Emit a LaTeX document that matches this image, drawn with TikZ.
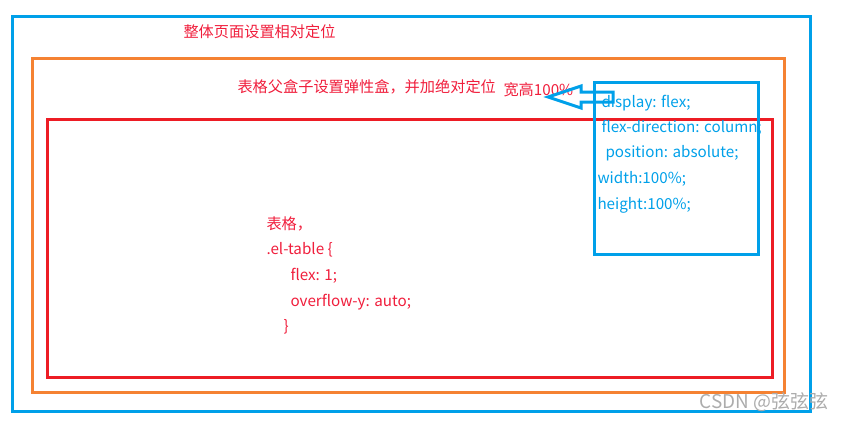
\documentclass[tikz,border=0pt]{standalone}
\usepackage{fontspec}
\newfontfamily\cjk{Noto Sans CJK SC}
\usetikzlibrary{positioning}
\definecolor{lblue}{RGB}{0,160,233}
\definecolor{lorange}{RGB}{245,130,50}
\definecolor{lred}{RGB}{237,28,36}
\definecolor{tred}{RGB}{240,30,60}
\begin{document}
\begin{tikzpicture}[x=0.75pt, y=-0.75pt, line width=2.25pt,
    txt/.style={anchor=west, inner sep=0pt, font=\cjk\fontsize{11.4}{13}\selectfont},
    redtxt/.style={txt, text=tred},
    bluetxt/.style={txt, text=lblue}]
    \useasboundingbox (0,0) rectangle (845,421);
    % boxes
    \draw[lblue] (12.5,16) rectangle (810,411);
    \draw[lorange] (32.5,58.5) rectangle (784,392);
    \draw[lred] (47,119.5) rectangle (772,377);
    \draw[lblue] (594,82) rectangle (758,254);
    % labels
    \node[redtxt] (page) at (182,32) {整体页面设置相对定位};
    \node[redtxt] (parent) at (236,87) {表格父盒子设置弹性盒，并加绝对定位};
    \node[redtxt] (wh) at (502,90) {宽高100\%};
    \node[bluetxt] (c1) at (600,103) {display: flex;};
    \node[bluetxt] (c2) at (600,128) {flex-direction: column;};
    \node[bluetxt] (c3) at (604,153) {position: absolute;};
    \node[bluetxt] (c4) at (596,179) {width:100\%;};
    \node[bluetxt] (c5) at (596,205) {height:100\%;};
    \node[redtxt] (t1) at (265,224) {表格，};
    \node[redtxt] (t2) at (265,250) {.el-table \{};
    \node[redtxt] (t3) at (289,276) {flex: 1;};
    \node[redtxt] (t4) at (289,302) {overflow-y: auto;};
    \node[redtxt] (t5) at (282,327) {\}};
    % arrow
    \draw[lblue, line width=2.25pt, line join=miter]
        (548,97) -- (581,86) -- (581,92) -- (613,92) -- (613,102)
        -- (581,102) -- (581,108) -- cycle;
    \node[txt, text=gray!65, font=\cjk\fontsize{14.2}{16}\selectfont] (mark) at (698,402) {CSDN @弦弦弦};
\end{tikzpicture}
\end{document}
